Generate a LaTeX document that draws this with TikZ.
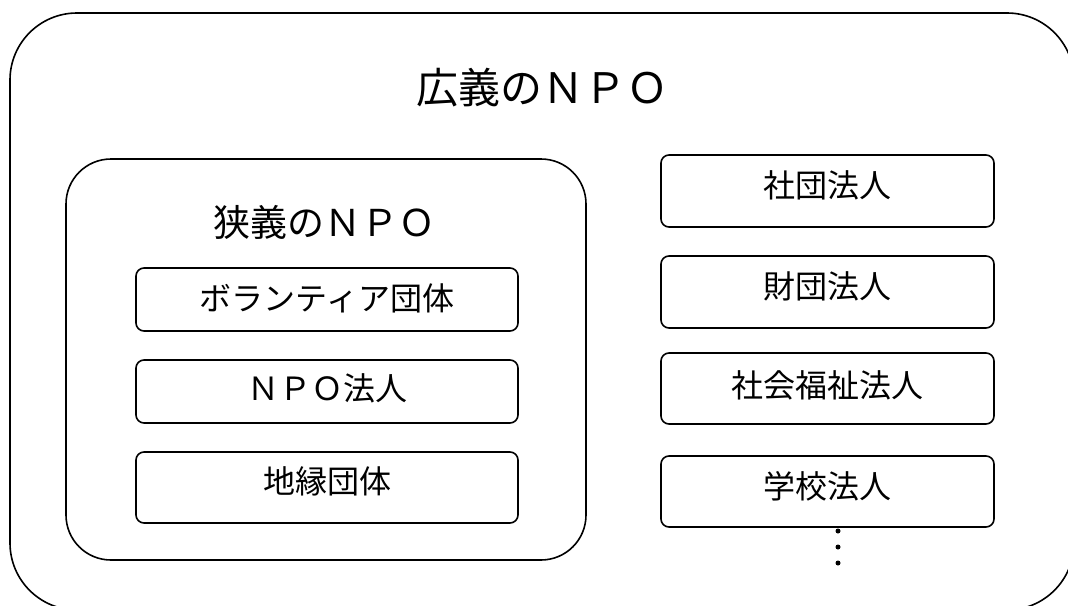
\documentclass[tikz,border=0pt]{standalone}
\usepackage{fontspec}
\newfontfamily\jp{Noto Sans CJK JP}
\begin{document}
\begin{tikzpicture}[x=1pt,y=-1pt,
  frame/.style={draw=black, line width=1.6pt, inner sep=0pt, outer sep=0pt, anchor=north west},
  bigframe/.style={frame, rounded corners=67pt},
  midframe/.style={frame, rounded corners=45pt},
  item/.style={frame, rounded corners=8pt},
  lbl/.style={inner sep=0pt, font=\jp\fontsize{32}{38}\selectfont},
  title/.style={inner sep=0pt, font=\jp\fontsize{42}{50}\selectfont},
  subtitle/.style={inner sep=0pt, font=\jp\fontsize{37}{44}\selectfont},
  dot/.style={circle, fill=black, inner sep=0pt, minimum size=5pt}]
\useasboundingbox (0,0) rectangle (1068,605);
\clip (0,0) rectangle (1068,605);
% outer frame
\node[bigframe, minimum width=1064pt, minimum height=597pt] (outer) at (10,13) {};
\node[title] (t1) at (542,88) {広義のＮＰＯ};
% inner frame
\node[midframe, minimum width=520pt, minimum height=401pt] (inner) at (66,159) {};
\node[subtitle] (t2) at (324,222) {狭義のＮＰＯ};
% left items
\node[item, minimum width=382pt, minimum height=63pt] (l1) at (136,268) {};
\node[item, minimum width=382pt, minimum height=63pt] (l2) at (136,360) {};
\node[item, minimum width=382pt, minimum height=71pt] (l3) at (136,452) {};
\node[lbl] (l1t) at (327,298) {ボランティア団体};
\node[lbl] (l2t) at (327,388) {ＮＰＯ法人};
\node[lbl] (l3t) at (327,481) {地縁団体};
% right items
\node[item, minimum width=333pt, minimum height=72pt] (r1) at (661,155) {};
\node[item, minimum width=333pt, minimum height=72pt] (r2) at (661,256) {};
\node[item, minimum width=333pt, minimum height=71pt] (r3) at (661,353) {};
\node[item, minimum width=333pt, minimum height=71pt] (r4) at (661,456) {};
\node[lbl] (r1t) at (827,185) {社団法人};
\node[lbl] (r2t) at (827,286) {財団法人};
\node[lbl] (r3t) at (827,385) {社会福祉法人};
\node[lbl] (r4t) at (827,486) {学校法人};
% continuation dots
\node[dot] (d1) at (838,531) {};
\node[dot] (d2) at (838,547) {};
\node[dot] (d3) at (838,563) {};
\end{tikzpicture}
\end{document}
